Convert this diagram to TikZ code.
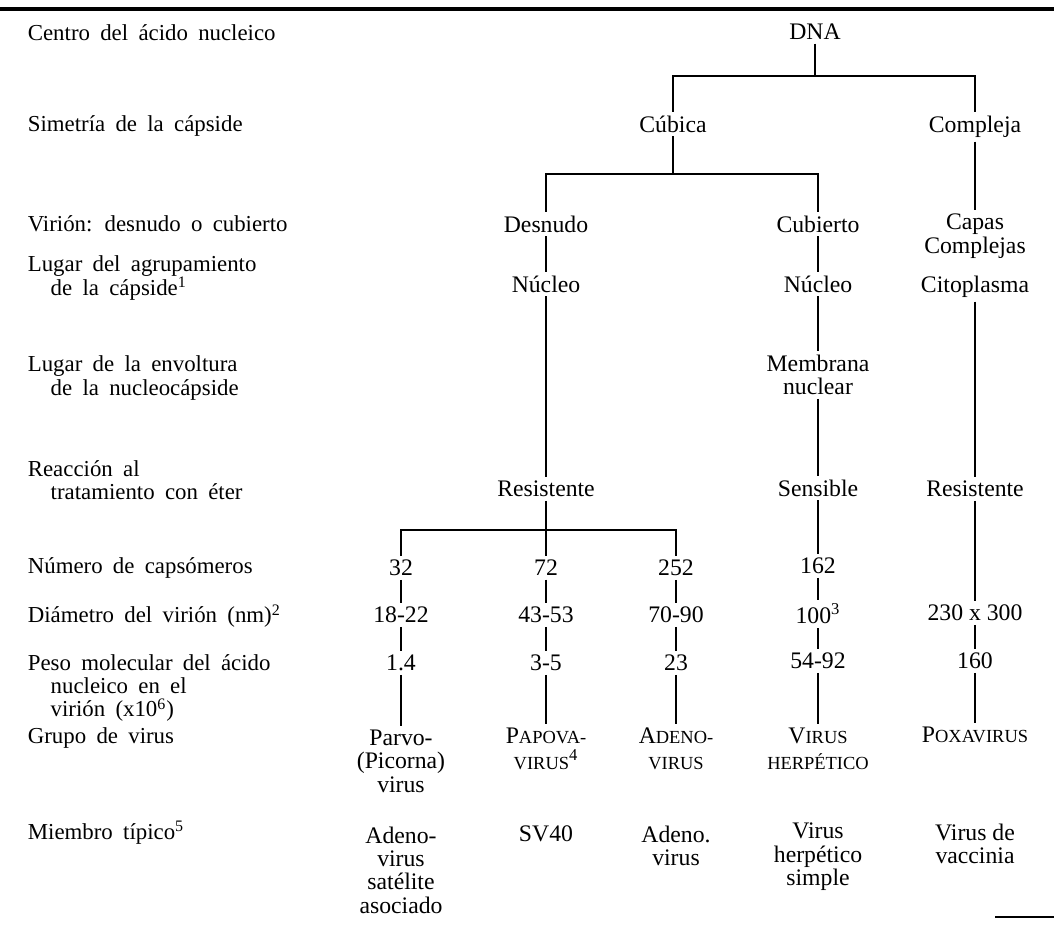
\documentclass[tikz,border=0pt]{standalone}
\usepackage{fontspec}
\setmainfont{Liberation Serif}
\newfontfamily\labelfont{Liberation Serif}[WordSpace=1.8]
\usepackage{tikz}
\newcommand\smcap[1]{{\fontsize{10.5}{13.5}\selectfont #1}}

\begin{document}
\begin{tikzpicture}[x=0.02cm,y=-0.02cm,
    every node/.style={font=\fontsize{13.5}{13.3}\selectfont, inner sep=2pt},
    rowlabel/.style={anchor=west, align=left, font=\labelfont\fontsize{13}{13.3}\selectfont},
    entry/.style={align=center},
    group/.style={align=center, font=\fontsize{13.5}{15}\selectfont},
    link/.style={line width=0.85pt}]
  \useasboundingbox (0,0) rectangle (1054,927);
  \draw[line width=1.8pt] (0,9) -- (1054,9);
  \draw[line width=1.2pt] (995,917) -- (1054,917);

  % row labels
  \node[rowlabel] (lab1) at (24,33) {Centro del ácido nucleico};
  \node[rowlabel] (lab2) at (24,126) {Simetría de la cápside};
  \node[rowlabel] (lab3) at (24,224) {Virión: desnudo o cubierto};
  \node[rowlabel] (lab4) at (24,278) {Lugar del agrupamiento\\\hspace*{1em}de la cápside\textsuperscript{1}};
  \node[rowlabel] (lab5) at (24,378) {Lugar de la envoltura\\\hspace*{1em}de la nucleocápside};
  \node[rowlabel] (lab6) at (24,480) {Reacción al\\\hspace*{1em}tratamiento con éter};
  \node[rowlabel] (lab7) at (24,568) {Número de capsómeros};
  \node[rowlabel] (lab8) at (24,616) {Diámetro del virión (nm)\textsuperscript{2}};
  \node[rowlabel] (lab9) at (24,688) {Peso molecular del ácido\\\hspace*{1em}nucleico en el\\\hspace*{1em}virión (x10\textsuperscript{6})};
  \node[rowlabel] (lab10) at (24,738) {Grupo de virus};
  \node[rowlabel] (lab11) at (24,833) {Miembro típico\textsuperscript{5}};

  % upper tree
  \node[entry] (dna) at (815,32) {DNA};
  \node[entry] (cubica) at (673,124) {Cúbica};
  \node[entry] (compleja) at (975,127) {Compleja};
  \node[entry] (desnudo) at (546,224) {Desnudo};
  \node[entry] (cubierto) at (818,224) {Cubierto};
  \node[entry] (capas) at (975,236) {Capas\\Complejas};
  \node[entry] (nucleoB) at (546,284) {Núcleo};
  \node[entry] (nucleoD) at (818,284) {Núcleo};
  \node[entry] (citoplasma) at (975,287) {Citoplasma};
  \node[entry] (membrana) at (818,375) {Membrana\\nuclear};
  \node[entry] (resB) at (546,489) {Resistente};
  \node[entry] (sensible) at (818,488) {Sensible};
  \node[entry] (resE) at (975,489) {Resistente};

  % numbers
  \node[entry] (capA) at (401,568) {32};
  \node[entry] (capB) at (546,568) {72};
  \node[entry] (capC) at (676,568) {252};
  \node[entry] (capD) at (818,566) {162};
  \node[entry] (diaA) at (401,615) {18-22};
  \node[entry] (diaB) at (546,615) {43-53};
  \node[entry] (diaC) at (676,615) {70-90};
  \node[entry] (diaD) at (818,614) {100\textsuperscript{3}};
  \node[entry] (diaE) at (975,613) {230 x 300};
  \node[entry] (pesA) at (401,663) {1.4};
  \node[entry] (pesB) at (546,663) {3-5};
  \node[entry] (pesC) at (676,663) {23};
  \node[entry] (pesD) at (818,661) {54-92};
  \node[entry] (pesE) at (975,661) {160};

  % virus groups
  \node[entry] (grpA) at (401,761) {Parvo-\\(Picorna)\\virus};
  \node[group] (grpB) at (546,749) {P\smcap{APOVA-}\\\smcap{VIRUS}\textsuperscript{4}};
  \node[group] (grpC) at (676,749) {A\smcap{DENO-}\\\smcap{VIRUS}};
  \node[group] (grpD) at (818,749) {V\smcap{IRUS}\\\smcap{HERPÉTICO}};
  \node[entry] (grpE) at (975,735) {P\smcap{OXAVIRUS}};

  % typical members
  \node[entry] (memA) at (401,870) {Adeno-\\virus\\satélite\\asociado};
  \node[entry] (memB) at (546,834) {SV40};
  \node[entry] (memC) at (676,846) {Adeno.\\virus};
  \node[entry] (memD) at (818,857) {Virus\\herpético\\simple};
  \node[entry] (memE) at (975,844) {Virus de\\vaccinia};

  \coordinate (j1) at (815,76);
  \coordinate (j2) at (673,174);
  \coordinate (j3) at (546,530);

  \draw[link] (dna) -- (j1);
  \draw[link] (cubica) |- (j1) -| (compleja);
  \draw[link] (cubica) -- (j2);
  \draw[link] (desnudo) |- (j2) -| (cubierto);
  \draw[link] (compleja) -- (capas);
  \draw[link] (desnudo) -- (nucleoB);
  \draw[link] (cubierto) -- (nucleoD);
  \draw[link] (nucleoB) -- (resB);
  \draw[link] (nucleoD) -- (membrana);
  \draw[link] (membrana) -- (sensible);
  \draw[link] (citoplasma) -- (resE);
  \draw[link] (resB) -- (capB);
  \draw[link] (capA) |- (j3) -| (capC);
  \draw[link] (sensible) -- (capD);
  \draw[link] (resE) -- (diaE);

  \draw[link] (capA) -- (diaA) -- (pesA) -- (grpA);
  \draw[link] (capB) -- (diaB) -- (pesB) -- (grpB);
  \draw[link] (capC) -- (diaC) -- (pesC) -- (grpC);
  \draw[link] (capD) -- (diaD) -- (pesD) -- (grpD);
  \draw[link] (diaE) -- (pesE) -- (grpE);
\end{tikzpicture}
\end{document}
